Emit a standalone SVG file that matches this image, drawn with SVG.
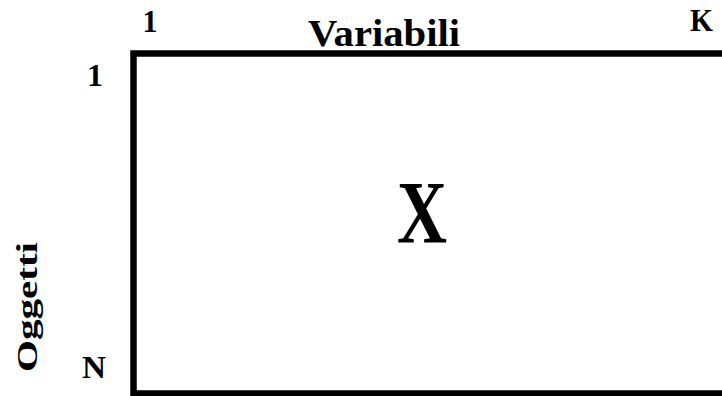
<svg xmlns="http://www.w3.org/2000/svg" width="722" height="396" viewBox="0 0 722 396">
<style>
.t{font-family:"Liberation Serif","Times New Roman",serif;font-weight:bold;fill:#000}
</style>
<rect width="722" height="396" fill="#fff"/>
<g id="matrix">
<rect x="133.5" y="53.5" width="700" height="340" fill="#fff" stroke="#000" stroke-width="6.5"/>
<text class="t" x="422" y="242" font-size="88" text-anchor="middle" textLength="50" lengthAdjust="spacingAndGlyphs">X</text>
</g>
<g id="labels">
<text class="t" x="150" y="32" font-size="31" text-anchor="middle" textLength="15" lengthAdjust="spacingAndGlyphs">1</text>
<text class="t" x="308" y="46" font-size="38" textLength="152" lengthAdjust="spacingAndGlyphs">Variabili</text>
<text class="t" x="690" y="31" font-size="31" textLength="23" lengthAdjust="spacingAndGlyphs">K</text>
<text class="t" x="95" y="86" font-size="31" text-anchor="middle" textLength="16" lengthAdjust="spacingAndGlyphs">1</text>
<text class="t" x="82" y="378" font-size="31" textLength="24" lengthAdjust="spacingAndGlyphs">N</text>
<text class="t" transform="translate(37,372) rotate(-90)" font-size="30" textLength="130" lengthAdjust="spacingAndGlyphs">Oggetti</text>
</g>
</svg>
